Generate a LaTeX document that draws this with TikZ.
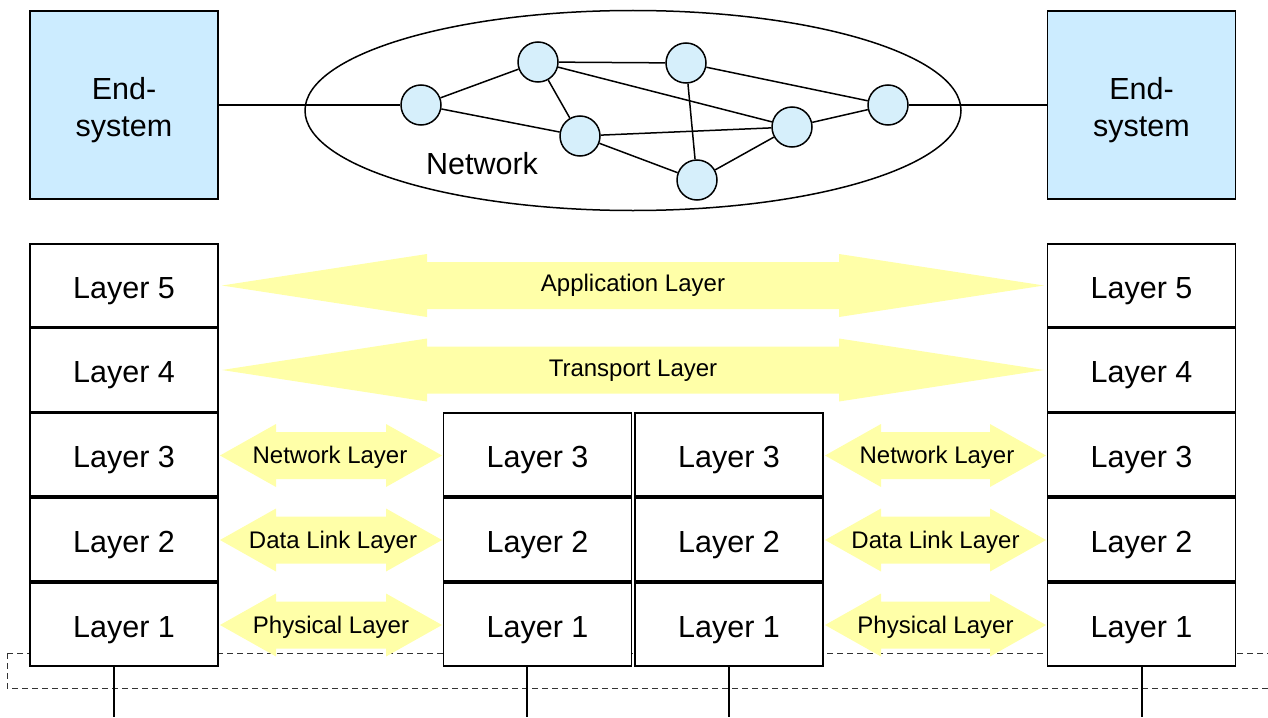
\documentclass[tikz,border=0pt]{standalone}
\usepackage{fontspec}
\setmainfont{Liberation Sans}
\definecolor{esblue}{HTML}{CCECFF}
\definecolor{rblue}{HTML}{D6EFFB}
\definecolor{ayellow}{HTML}{FFFFA8}
\newcommand\dArrow[5]{% left tip x, right tip x, center y, head length, name
\fill[ayellow] (#1,#3) -- (#1+#4,#3-31.5) -- (#1+#4,#3-23.5) -- (#2-#4,#3-23.5) -- (#2-#4,#3-31.5) -- (#2,#3) -- (#2-#4,#3+31.5) -- (#2-#4,#3+23.5) -- (#1+#4,#3+23.5) -- (#1+#4,#3+31.5) -- cycle;
\coordinate (#5) at ({(#1+#2)/2},#3);}
\begin{document}
\begin{tikzpicture}[x=1pt,y=-1pt,
  layerbox/.style={draw=black, line width=1.6pt, fill=white, minimum width=188pt, minimum height=83pt, inner sep=0pt, text height=25.6pt, text depth=0pt, font=\fontsize{30.5}{36}\selectfont},
  endsys/.style={draw=black, line width=1.6pt, fill=esblue, minimum width=188pt, minimum height=188pt, inner sep=0pt},
  estext/.style={align=center, font=\fontsize{30.5}{37}\selectfont, yshift=-5pt},
  router/.style={circle, draw=black, line width=1.5pt, fill=rblue, minimum size=40pt, inner sep=0pt},
  link/.style={line width=1.5pt},
  lbl/.style={font=\fontsize{24}{28}\selectfont, inner sep=0pt, text height=16pt, text depth=0pt},
  vline/.style={line width=1.5pt}]
\useasboundingbox (0,0) rectangle (1268,717);
\clip (0,0) rectangle (1268,717);

% dashed frame (behind boxes)
\draw[line width=1pt, dash pattern=on 6pt off 4pt, black!80] (7,653) rectangle (1285,688);

% top: end systems and network
\node[endsys, label={[estext]center:End-\\system}] (esL) at (124,105) {};
\node[endsys, label={[estext]center:End-\\system}] (esR) at (1141.5,105) {};
\draw[link] (633,110.5) ellipse [x radius=328, y radius=100];
\node[font=\fontsize{30.5}{34}\selectfont] (netlbl) at (482,164) {Network};

\node[router] (n1) at (421,105) {};
\node[router] (n2) at (538,62) {};
\node[router] (n3) at (580,136) {};
\node[router] (n4) at (686,63) {};
\node[router] (n5) at (697,180) {};
\node[router] (n6) at (792,127) {};
\node[router] (n7) at (888,105) {};
\draw[link] (esL.east |- n1) -- (n1);
\draw[link] (n7) -- (esR.west |- n7);
\draw[link] (n1) -- (n2);
\draw[link] (n1) -- (n3);
\draw[link] (n2) -- (n3);
\draw[link] (n2) -- (n4);
\draw[link] (n2) -- (n6);
\draw[link] (n3) -- (n6);
\draw[link] (n3) -- (n5);
\draw[link] (n4) -- (n5);
\draw[link] (n4) -- (n7);
\draw[link] (n5) -- (n6);
\draw[link] (n6) -- (n7);

% yellow arrows
\dArrow{222}{1044}{285.5}{205}{aApp}
\dArrow{222}{1044}{370}{205}{aTra}
\dArrow{220}{442}{455.5}{56}{aNL}
\dArrow{220}{442}{540}{56}{aDL}
\dArrow{220}{442}{625}{56}{aPL}
\dArrow{825}{1046}{455.5}{56}{bNL}
\dArrow{825}{1046}{540}{56}{bDL}
\dArrow{825}{1046}{625}{56}{bPL}
\node[lbl] (tApp) at ([yshift=2pt]aApp) {Application Layer};
\node[lbl] (tTra) at ([yshift=2pt]aTra) {Transport Layer};
\node[lbl] (tNL) at ([xshift=-1pt]aNL) {Network Layer};
\node[lbl] (tDL) at ([xshift=2pt]aDL) {Data Link Layer};
\node[lbl] (tPL) at (aPL) {Physical Layer};
\node[lbl] (uNL) at ([xshift=1.5pt]bNL) {Network Layer};
\node[lbl] (uDL) at (bDL) {Data Link Layer};
\node[lbl] (uPL) at (bPL) {Physical Layer};

% layer stacks
\foreach \n/\y in {5/285.5,4/370,3/454.5,2/539.5,1/624.5}{
  \node[layerbox] (L\n) at (124,\y) {Layer \n};
  \node[layerbox] (R\n) at (1141.5,\y) {Layer \n};
}
\foreach \n/\y in {3/454.5,2/539.5,1/624.5}{
  \node[layerbox] (MA\n) at (537.5,\y) {Layer \n};
  \node[layerbox] (MB\n) at (729,\y) {Layer \n};
}

% vertical lines to the medium
\coordinate (b1) at (114,717);
\coordinate (b2) at (527,717);
\coordinate (b3) at (729,717);
\coordinate (b4) at (1142,717);
\draw[vline] (L1.south -| b1) -- (b1);
\draw[vline] (MA1.south -| b2) -- (b2);
\draw[vline] (MB1.south -| b3) -- (b3);
\draw[vline] (R1.south -| b4) -- (b4);
\end{tikzpicture}
\end{document}
